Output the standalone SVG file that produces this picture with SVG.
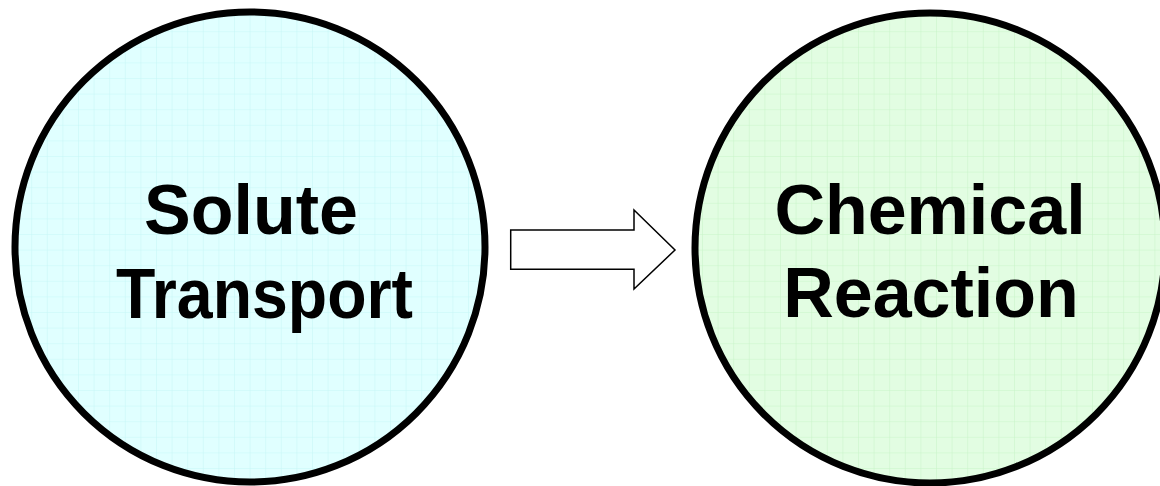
<svg xmlns="http://www.w3.org/2000/svg" width="1160" height="486" viewBox="0 0 1160 486">
  <style>
    .node { stroke: #000; stroke-width: 7; }
    .label { font-family: "Liberation Sans", Arial, sans-serif; font-weight: bold; font-size: 70px; fill: #000; text-anchor: middle; }
    .connector { fill: #fff; stroke: #000; stroke-width: 1.5; stroke-linejoin: miter; }
  </style>
  <defs>
    <!-- faint graph-paper fills for the two circles -->
    <pattern id="gridCyan" patternUnits="userSpaceOnUse" x="0" y="0" width="15.6" height="15.6">
      <rect width="15.6" height="15.6" fill="#e0ffff"/>
      <path d="M 0 0 H 15.6 M 0 0 V 15.6" stroke="#c6f7f7" stroke-width="1" fill="none"/>
    </pattern>
    <pattern id="gridGreen" patternUnits="userSpaceOnUse" x="0" y="0" width="15.6" height="15.6">
      <rect width="15.6" height="15.6" fill="#e2fde2"/>
      <path d="M 0 0 H 15.6 M 0 0 V 15.6" stroke="#c8f5c8" stroke-width="1" fill="none"/>
    </pattern>
  </defs>

  <rect width="1160" height="486" fill="#fff"/>

  <g id="solute-transport">
    <circle class="node" cx="250" cy="247" r="235" fill="url(#gridCyan)"/>
    <text class="label" x="251" y="234">Solute</text>
    <text class="label" x="264.5" y="318" textLength="297" lengthAdjust="spacingAndGlyphs">Transport</text>
  </g>

  <g id="chemical-reaction">
    <circle class="node" cx="930" cy="248" r="235" fill="url(#gridGreen)"/>
    <text class="label" x="930" y="234">Chemical</text>
    <text class="label" x="931" y="317">Reaction</text>
  </g>

  <g id="connectors">
    <!-- block arrow from transport to reaction -->
    <path class="connector" d="M 510.7 230 H 634 V 210 L 675 250 L 634 289 V 269.3 H 510.7 Z"/>
  </g>
</svg>
